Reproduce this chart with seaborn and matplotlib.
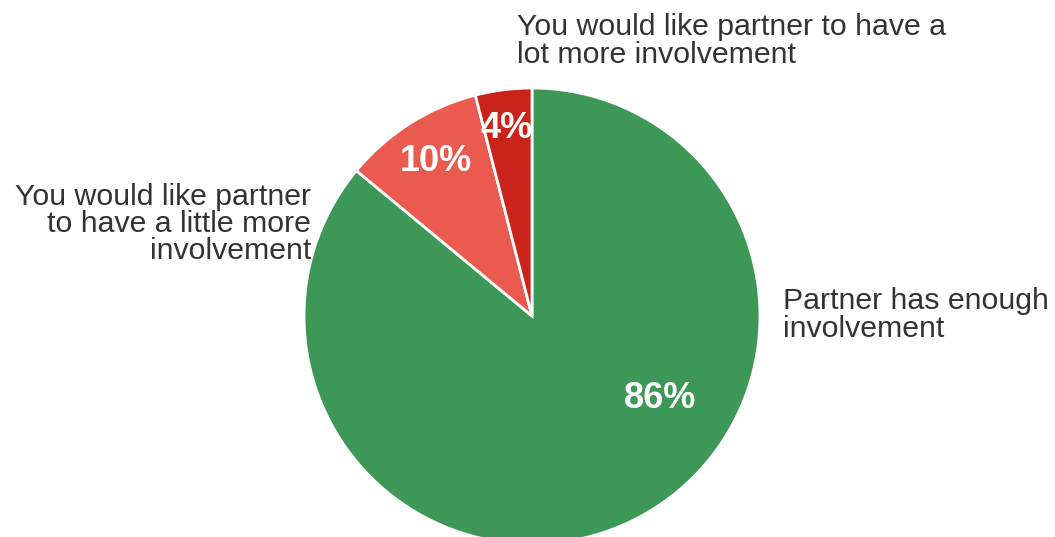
import matplotlib
matplotlib.use("Agg")
import matplotlib.pyplot as plt
import seaborn as sns

# slices, clockwise from 12 o'clock
categories = ["Partner has enough\ninvolvement",
              "You would like partner\nto have a little more\ninvolvement",
              "You would like partner to have a\nlot more involvement"]
shares = [86, 10, 4]
colors = ["#3d9857", "#eb5a4f", "#c9231a"]

sns.set_theme(style="white")
plt.rcParams['font.family'] = ['Liberation Sans', 'DejaVu Sans']

fig = plt.figure(figsize=(10.55, 5.37), dpi=100)
ax = fig.add_axes([0, 0, 1, 1])
R = 228.0
cx, cy = 532.0, 316.0

wedges, _, pct = ax.pie(shares, colors=colors, startangle=90, counterclock=False,
                        autopct="%d%%", pctdistance=0.62,
                        wedgeprops=dict(edgecolor="white", linewidth=2),
                        textprops=dict(color="white", fontsize=26, fontweight="bold"))
ax.set_xlim(-cx / R, (1055 - cx) / R)
ax.set_ylim(-(537 - cy) / R, cy / R)
ax.set_aspect("equal")
ax.axis("off")

pct[0].set_position(((660 - cx) / R, (cy - 399) / R))
pct[1].set_position(((436 - cx) / R, (cy - 161) / R))
pct[2].set_position(((507 - cx) / R, (cy - 128) / R))

lab = dict(fontsize=21.8, color="#333333", linespacing=0.97)
ax.text((783 - cx) / R, (cy - 315) / R, categories[0], ha="left", va="center", **lab)
ax.text((311 - cx) / R, (cy - 224) / R, categories[1], ha="right", va="center", **lab)
ax.text((517 - cx) / R, (cy - 41) / R, categories[2], ha="left", va="center", **lab)

fig.savefig("out.png", dpi=100)
